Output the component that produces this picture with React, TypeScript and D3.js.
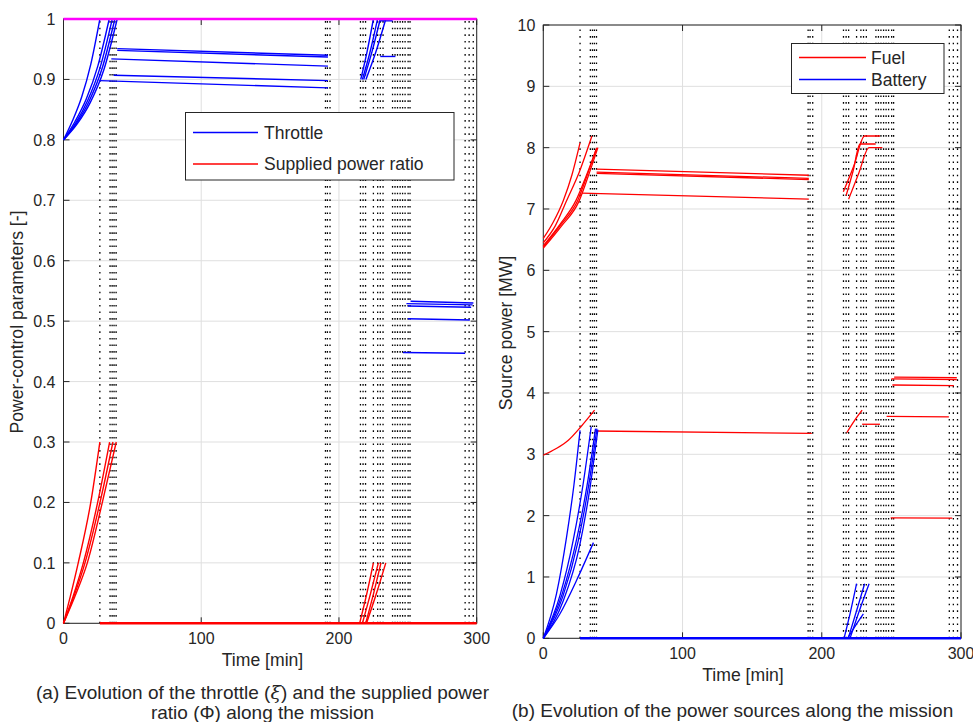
import React from "react";
import * as d3 from "d3";

type Pt = [number, number];

// ---------- shared event times (dotted vertical lines) [min] ----------
const eventTimes = [
  26.4, 33.8, 35.3, 36.7, 38.2, 190.2, 191.6, 193.5, 215.6, 217.5, 219.3, 225,
  228.1, 230, 232, 238.9, 240.7, 242.5, 244.4, 246.2, 248, 250.2, 251.6, 291.6,
  294.5, 297.5,
];

// ---------- left panel: throttle (xi) ----------
const throttleSegments: Pt[][] = [
  [[0, 0.8], [6.6, 0.832], [13.2, 0.871], [19.8, 0.925], [26.4, 1]],
  [[0, 0.8], [8.3, 0.83], [16.6, 0.868], [24.9, 0.922], [33.2, 1]],
  [[0, 0.8], [8.9, 0.828], [17.7, 0.866], [26.6, 0.92], [35.4, 1]],
  [[0, 0.8], [9.3, 0.827], [18.6, 0.864], [28, 0.918], [37.3, 1]],
  [[0, 0.8], [9.8, 0.826], [19.5, 0.862], [29.3, 0.916], [39, 1]],
  [[39, 0.951], [192, 0.94]],
  [[39, 0.948], [192, 0.937]],
  [[34.7, 0.934], [192, 0.922]],
  [[36.4, 0.907], [192, 0.898]],
  [[26.4, 0.898], [192, 0.886]],
  [[215.8, 0.9], [220.5, 0.947], [225, 1]],
  [[217, 0.9], [222.5, 0.945], [228, 1]],
  [[218, 0.9], [224, 0.946], [230, 1]],
  [[219.6, 0.9], [227, 0.947], [234, 1]],
  [[230, 0.997], [239, 0.997]],
  [[230, 0.938], [241, 0.938]],
  [[252, 0.533], [297.6, 0.53]],
  [[249, 0.529], [297, 0.527]],
  [[250, 0.525], [296, 0.523]],
  [[250, 0.504], [295, 0.502]],
  [[246.5, 0.448], [291.6, 0.447]],
];

// ---------- left panel: supplied power ratio (Phi) ----------
const ratioSegments: Pt[][] = [
  [[0, 0], [5, 0.045], [10.7, 0.1], [19.8, 0.2], [26.4, 0.3]],
  [[0, 0], [7, 0.045], [14.4, 0.1], [24.8, 0.2], [33.5, 0.3]],
  [[0, 0], [7.6, 0.045], [15.6, 0.1], [26.5, 0.2], [35.9, 0.3]],
  [[0, 0], [8.4, 0.045], [17.3, 0.1], [28.2, 0.2], [38.3, 0.3]],
  [[26.4, 0], [300, 0]],
  [[215, 0], [220.5, 0.052], [225, 0.1]],
  [[217, 0], [223, 0.05], [228.6, 0.1]],
  [[219.4, 0], [225.2, 0.05], [230.5, 0.1]],
  [[220, 0], [227.3, 0.05], [234, 0.1]],
];

const saturationLine: Pt[] = [[0, 1], [300, 1]];

// ---------- right panel: fuel power [MW] ----------
const fuelSegments: Pt[][] = [
  [[0, 6.52], [7, 6.78], [14.4, 7.14], [20.5, 7.55], [26.4, 8.08]],
  [[0, 6.45], [8.5, 6.72], [16.8, 7.14], [25.8, 7.6], [34.9, 8.19]],
  [[0, 6.4], [12, 6.75], [23.5, 7.14], [31, 7.55], [38.5, 8.0]],
  [[0, 6.38], [12.5, 6.74], [24.7, 7.14], [31.5, 7.55], [38, 7.98]],
  [[0, 6.36], [13, 6.72], [25.5, 7.12], [32.5, 7.55], [39.2, 8.0]],
  [[38.3, 7.65], [190.7, 7.55]],
  [[38.3, 7.6], [190.7, 7.5]],
  [[38.3, 7.58], [190.7, 7.48]],
  [[27.6, 7.26], [190.7, 7.16]],
  [[0, 2.985], [9, 3.09], [18, 3.23], [27, 3.45], [36.8, 3.72]],
  [[37, 3.38], [192.8, 3.34]],
  [[215.5, 7.28], [223, 7.7], [230.8, 8.19], [241.8, 8.19]],
  [[217.5, 7.22], [222.5, 7.62], [227.5, 8.06], [238.7, 8.06]],
  [[219.3, 7.16], [226.5, 7.58], [234, 8.0], [243.5, 8.0]],
  [[218, 3.355], [223.5, 3.55], [229, 3.72]],
  [[229, 3.49], [241.8, 3.49]],
  [[252, 4.26], [297, 4.25]],
  [[250, 4.23], [297, 4.22]],
  [[250.7, 4.13], [294.9, 4.12]],
  [[246.6, 3.62], [291.3, 3.61]],
  [[249.5, 1.965], [293.7, 1.96]],
];

// ---------- right panel: battery power [MW] ----------
const batterySegments: Pt[][] = [
  [[0, 0], [9.5, 0.73], [16.7, 1.65], [22, 2.5], [26.4, 3.39]],
  [[0, 0], [12, 0.7], [21.5, 1.6], [28.5, 2.5], [34.4, 3.45]],
  [[0, 0], [13.5, 0.72], [24, 1.62], [31.5, 2.5], [37.5, 3.42]],
  [[0, 0], [14, 0.68], [25, 1.58], [32.5, 2.48], [38.5, 3.42]],
  [[0, 0], [14.5, 0.62], [26, 1.5], [33.5, 2.45], [39.2, 3.4]],
  [[0, 0], [12, 0.4], [24, 0.95], [36, 1.56]],
  [[26.4, 0], [300, 0]],
  [[216, 0], [220.5, 0.42], [225, 0.89]],
  [[219, 0], [225, 0.45], [230.8, 0.89]],
  [[220.3, 0], [227, 0.45], [234, 0.89]],
  [[218.5, 0], [224, 0.2], [229.9, 0.4]],
];

// ---------- ticks & text ----------
const xTicks = [0, 100, 200, 300];
const leftYTicks = [0, 0.1, 0.2, 0.3, 0.4, 0.5, 0.6, 0.7, 0.8, 0.9, 1];
const rightYTicks = [0, 1, 2, 3, 4, 5, 6, 7, 8, 9, 10];
const leftLegend = ["Throttle", "Supplied power ratio"];
const rightLegend = ["Fuel", "Battery"];

const FONT = "'Liberation Sans', Arial, Helvetica, sans-serif";
const AX = "#262626";
const GRID = "#dfdfdf";
const BLUE = "#0000ff";
const RED = "#ff0000";
const TICK_FS = 16;
const LABEL_FS = 17.6;
const LEGEND_FS = 17.5;
const CAPTION_FS = 19;

type PanelProps = {
  x: d3.ScaleLinear<number, number>;
  y: d3.ScaleLinear<number, number>;
  yTicks: number[];
  yLabel: string;
  yLabelX: number;
  yLabelY: number;
  xLabelX: number;
  xLabelY: number;
  children?: React.ReactNode;
};

function Panel({ x, y, yTicks, yLabel, yLabelX, yLabelY, xLabelX, xLabelY, children }: PanelProps) {
  const [x0, x1] = x.range();
  const [y0, y1] = y.range(); // y0 bottom, y1 top
  const tl = 6;
  const fmt = (v: number) => String(+v.toFixed(2));
  return (
    <g>
      {/* grid */}
      {xTicks.map((t) => (
        <line key={"gx" + t} x1={x(t)} x2={x(t)} y1={y0} y2={y1} stroke={GRID} strokeWidth={1} />
      ))}
      {yTicks.map((t) => (
        <line key={"gy" + t} x1={x0} x2={x1} y1={y(t)} y2={y(t)} stroke={GRID} strokeWidth={1} />
      ))}
      {/* axes box & ticks */}
      <rect x={x0} y={y1} width={x1 - x0} height={y0 - y1} fill="none" stroke={AX} strokeWidth={1} />
      {xTicks.map((t) => (
        <g key={"tx" + t}>
          <line x1={x(t)} x2={x(t)} y1={y0} y2={y0 - tl} stroke={AX} />
          <line x1={x(t)} x2={x(t)} y1={y1} y2={y1 + tl} stroke={AX} />
          <text x={x(t)} y={y0 + 21} textAnchor="middle" fontSize={TICK_FS} fill={AX} fontFamily={FONT}>
            {t}
          </text>
        </g>
      ))}
      {yTicks.map((t) => (
        <g key={"ty" + t}>
          <line x1={x0} x2={x0 + tl} y1={y(t)} y2={y(t)} stroke={AX} />
          <line x1={x1} x2={x1 - tl} y1={y(t)} y2={y(t)} stroke={AX} />
          <text x={x0 - 8} y={y(t) + 6} textAnchor="end" fontSize={TICK_FS} fill={AX} fontFamily={FONT}>
            {fmt(t)}
          </text>
        </g>
      ))}
      {/* event lines */}
      {eventTimes.map((t, i) => (
        <line
          key={"ev" + i}
          x1={x(t)}
          x2={x(t)}
          y1={y0}
          y2={y1}
          stroke="#000"
          strokeWidth={1.3}
          strokeDasharray="1.6 5"
        />
      ))}
      {children}
      <text x={xLabelX} y={xLabelY} textAnchor="middle" fontSize={LABEL_FS} fill={AX} fontFamily={FONT}>
        Time [min]
      </text>
      <text
        transform={`translate(${yLabelX},${yLabelY}) rotate(-90)`}
        textAnchor="middle"
        fontSize={LABEL_FS}
        fill={AX}
        fontFamily={FONT}
      >
        {yLabel}
      </text>
    </g>
  );
}

export default function App() {
  const xL = d3.scaleLinear().domain([0, 300]).range([63.5, 476.7]);
  const yL = d3.scaleLinear().domain([0, 1]).range([623.3, 19]);
  const xR = d3.scaleLinear().domain([0, 300]).range([543.3, 961]);
  const yR = d3.scaleLinear().domain([0, 10]).range([638.3, 25]);

  const mkLine = (x: d3.ScaleLinear<number, number>, y: d3.ScaleLinear<number, number>) =>
    d3
      .line<Pt>()
      .x((d) => x(d[0]))
      .y((d) => y(d[1]))
      .curve(d3.curveMonotoneX);
  const lineL = mkLine(xL, yL);
  const lineR = mkLine(xR, yR);

  return (
    <svg
      width={973}
      height={722}
      viewBox="0 0 973 722"
      style={{ position: "fixed", left: 0, top: 0, background: "#fff", display: "block" }}
    >
      <rect width={973} height={722} fill="#fff" />
      <Panel
        x={xL}
        y={yL}
        yTicks={leftYTicks}
        yLabel="Power-control parameters [-]"
        yLabelX={23}
        yLabelY={322}
        xLabelX={262.5}
        xLabelY={666}
      >
        {throttleSegments.map((s, i) => (
          <path key={"th" + i} d={lineL(s) || ""} fill="none" stroke={BLUE} strokeWidth={1.4} />
        ))}
        {ratioSegments.map((s, i) => (
          <path
            key={"ra" + i}
            d={lineL(s) || ""}
            fill="none"
            stroke={RED}
            strokeWidth={s.length === 2 && s[0][1] === 0 ? 2.5 : 1.4}
          />
        ))}
        <path d={lineL(saturationLine) || ""} fill="none" stroke="#ff00ff" strokeWidth={2.5} />
      </Panel>
      <Panel
        x={xR}
        y={yR}
        yTicks={rightYTicks}
        yLabel="Source power [MW]"
        yLabelX={512}
        yLabelY={333}
        xLabelX={743}
        xLabelY={681}
      >
        {fuelSegments.map((s, i) => (
          <path key={"fu" + i} d={lineR(s) || ""} fill="none" stroke={RED} strokeWidth={1.3} />
        ))}
        {batterySegments.map((s, i) => (
          <path
            key={"ba" + i}
            d={lineR(s) || ""}
            fill="none"
            stroke={BLUE}
            strokeWidth={s.length === 2 && s[0][1] === 0 ? 2.5 : 1.3}
          />
        ))}
      </Panel>

      {/* left legend */}
      <g fontFamily={FONT} fontSize={LEGEND_FS} fill={AX}>
        <rect x={185.5} y={112.5} width={268.5} height={67.5} fill="#fff" stroke={AX} strokeWidth={1} />
        <line x1={193} x2={258} y1={132.5} y2={132.5} stroke={BLUE} strokeWidth={1.4} />
        <text x={264} y={138.5}>{leftLegend[0]}</text>
        <line x1={193} x2={258} y1={164} y2={164} stroke={RED} strokeWidth={1.4} />
        <text x={264} y={170}>{leftLegend[1]}</text>
      </g>
      {/* right legend */}
      <g fontFamily={FONT} fontSize={LEGEND_FS} fill={AX}>
        <rect x={791.5} y={43.5} width={152.5} height={50} fill="#fff" stroke={AX} strokeWidth={1} />
        <line x1={799} x2={866} y1={57.5} y2={57.5} stroke={RED} strokeWidth={1.5} />
        <text x={871} y={63.5}>{rightLegend[0]}</text>
        <line x1={799} x2={866} y1={79.5} y2={79.5} stroke={BLUE} strokeWidth={1.5} />
        <text x={871} y={85.5}>{rightLegend[1]}</text>
      </g>

      {/* captions */}
      <g fontFamily={FONT} fontSize={CAPTION_FS} fill={AX} textAnchor="middle">
        <text x={262.5} y={699}>
          (a) Evolution of the throttle (<tspan fontStyle="italic" fontFamily="'DejaVu Serif', serif">ξ</tspan>) and the supplied power
        </text>
        <text x={262.5} y={719}>ratio (Φ) along the mission</text>
        <text x={732.5} y={717}>(b) Evolution of the power sources along the mission</text>
      </g>
    </svg>
  );
}
